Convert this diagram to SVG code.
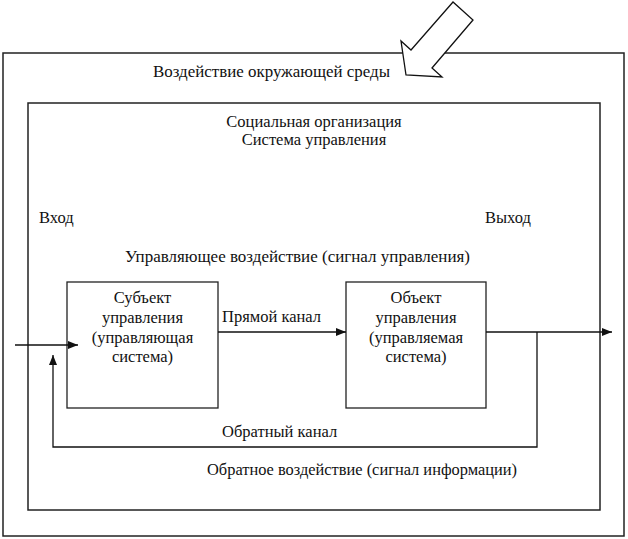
<svg xmlns="http://www.w3.org/2000/svg" width="628" height="539" viewBox="0 0 628 539">
<defs>
<style>
.t{font-family:"Liberation Serif","Times New Roman",serif;font-size:16.5px;fill:#111}
.c{text-anchor:middle}
.frame{fill:none;stroke:#222;stroke-width:1.5}
.box{fill:#fff;stroke:#222;stroke-width:1.3}
.ln{fill:none;stroke:#111;stroke-width:1.3}
</style>
<marker id="ah" markerUnits="userSpaceOnUse" markerWidth="10" markerHeight="8" refX="10" refY="4" orient="auto">
<path d="M0,0 L10,4 L0,8 z" fill="#111"/>
</marker>
</defs>
<rect width="628" height="539" fill="#fff"/>
<g id="environment">
<rect class="frame" x="3" y="53" width="621" height="483"/>
<text class="t" x="153" y="77" textLength="237" lengthAdjust="spacingAndGlyphs">Воздействие окружающей среды</text>
</g>
<g id="impact-arrow">
<polygon points="406,75 401,41 411,50 453,2 473,20 432,68 442,77" fill="#fff" stroke="#111" stroke-width="1.3" stroke-linejoin="miter"/>
</g>
<g id="organization">
<rect class="frame" x="28" y="103" width="572" height="407"/>
<text class="t c" x="314" y="127">Социальная организация</text>
<text class="t c" x="314" y="145">Система управления</text>
</g>
<g id="labels">
<text class="t" x="39" y="223">Вход</text>
<text class="t" x="485" y="223">Выход</text>
<text class="t" x="125" y="262" textLength="345" lengthAdjust="spacingAndGlyphs">Управляющее воздействие (сигнал управления)</text>
<text class="t" x="222" y="322">Прямой канал</text>
<text class="t" x="222" y="437">Обратный канал</text>
<text class="t" x="207" y="475" textLength="310" lengthAdjust="spacingAndGlyphs">Обратное воздействие (сигнал информации)</text>
</g>
<g id="subject">
<rect class="box" x="67" y="282" width="151" height="126"/>
<text class="t c" x="142.5" y="303">Субъект</text>
<text class="t c" x="142.5" y="323">управления</text>
<text class="t c" x="142.5" y="343">(управляющая</text>
<text class="t c" x="142.5" y="362">система)</text>
</g>
<g id="object">
<rect class="box" x="346" y="282" width="140" height="126"/>
<text class="t c" x="416" y="303">Объект</text>
<text class="t c" x="416" y="323">управления</text>
<text class="t c" x="416" y="343">(управляемая</text>
<text class="t c" x="416" y="362">система)</text>
</g>
<g id="connectors">
<line class="ln" x1="15" y1="345" x2="78" y2="345" marker-end="url(#ah)"/>
<line class="ln" x1="218" y1="332" x2="346" y2="332" marker-end="url(#ah)"/>
<line class="ln" x1="486" y1="332" x2="612" y2="332" marker-end="url(#ah)"/>
<polyline class="ln" points="537,332 537,447 53,447 53,355" marker-end="url(#ah)"/>
</g>
</svg>
